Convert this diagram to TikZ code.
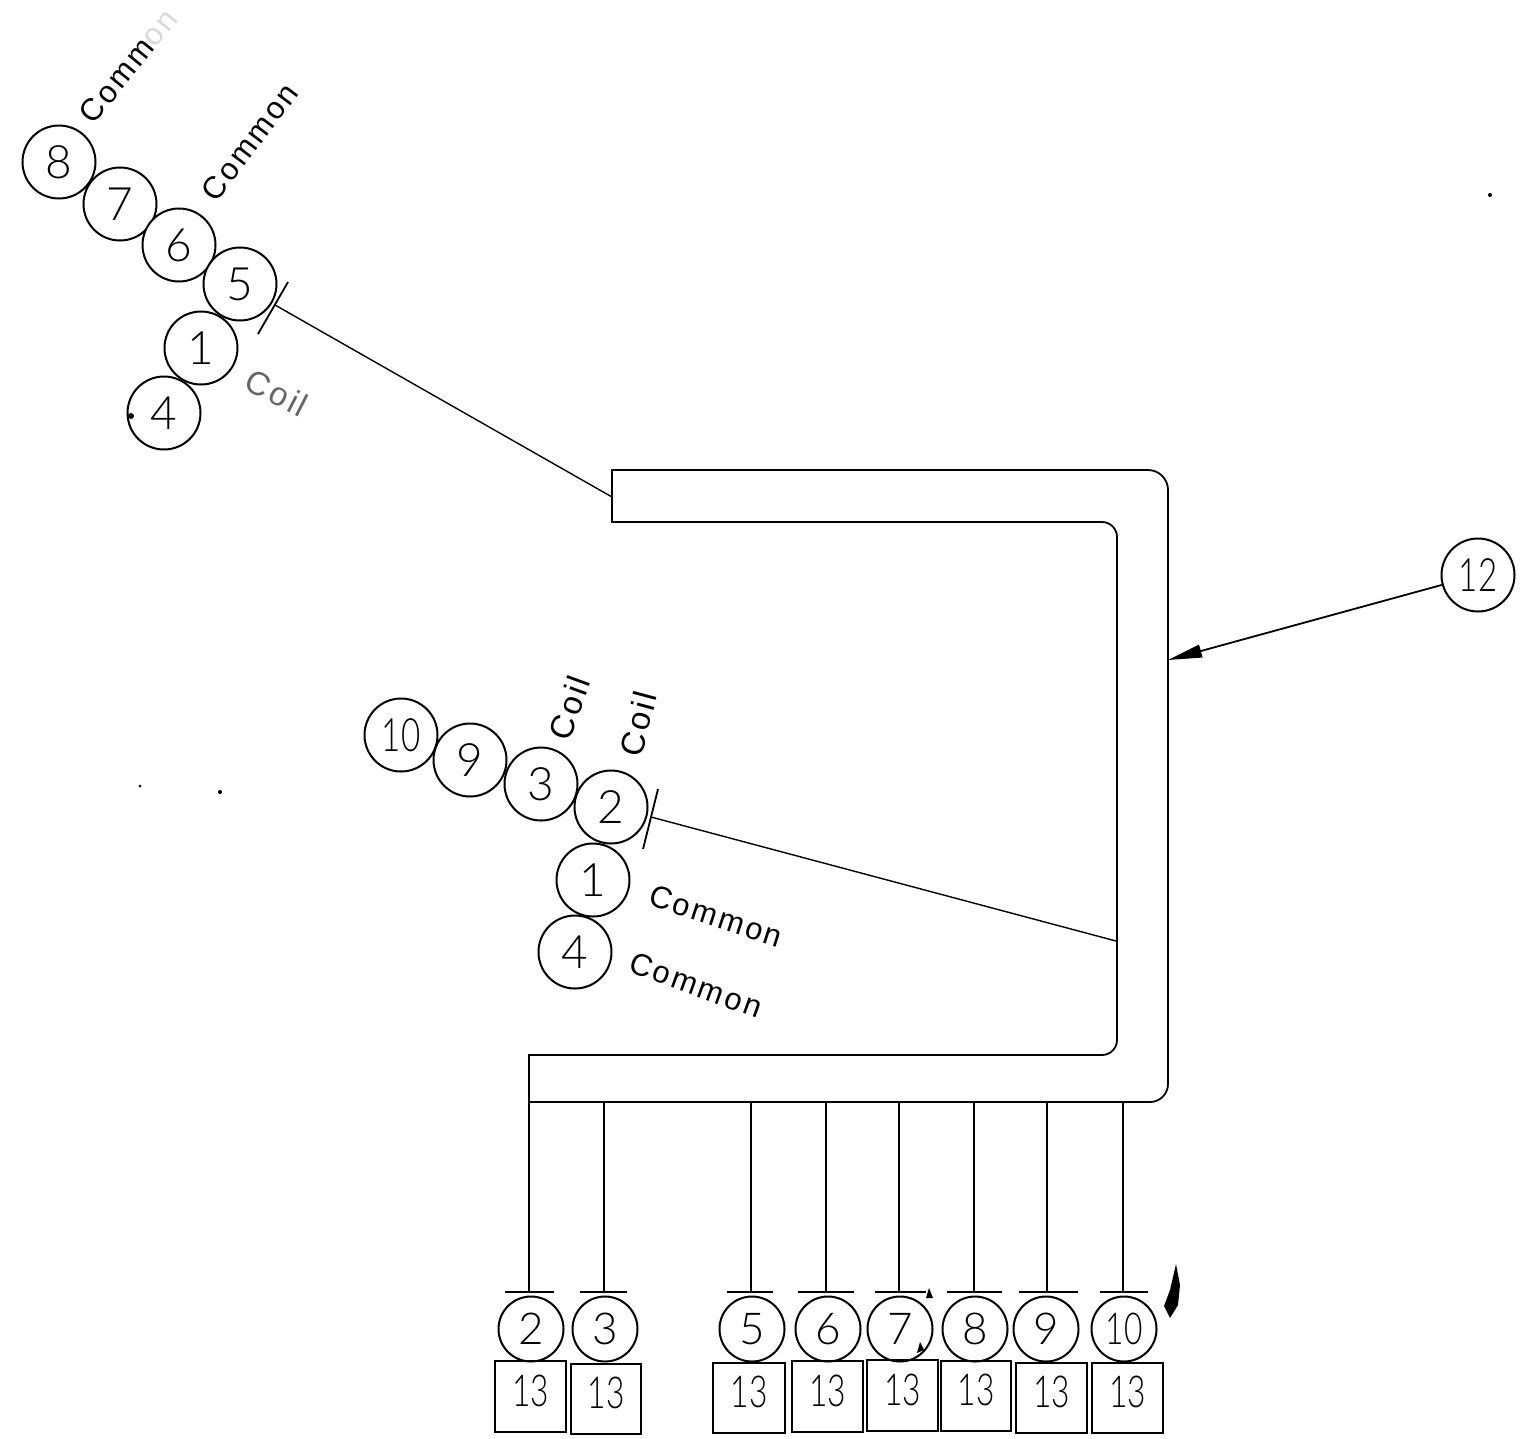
\documentclass[tikz,border=0pt]{standalone}
\usepackage{graphicx}
\usepackage{fontspec}
\setmainfont{Lato Light}
\usetikzlibrary{arrows.meta}
\newfontfamily\lblfont[LetterSpace=8]{Liberation Sans}
\newcommand{\nar}[1]{\scalebox{0.72}[1]{#1}}
\tikzset{
  x=1pt,y=-1pt,
  ln/.style={line width=1.8pt,black},
  thin ln/.style={line width=1.4pt,black},
  bigc/.style={circle,draw,line width=2pt,inner sep=0pt,minimum size=73pt,font=\fontsize{46}{46}\selectfont,fill=white,text=black},
  smallc/.style={circle,draw,line width=2pt,inner sep=0pt,minimum size=65pt,font=\fontsize{44}{44}\selectfont,text=black},
  lbl/.style={inner sep=0pt,font=\lblfont\fontsize{31}{31}\selectfont,text=black},
  coilbl/.style={inner sep=0pt,font=\lblfont\fontsize{33}{33}\selectfont,text=black},
  speck/.style={fill=black,draw=none},
}
\begin{document}
\begin{tikzpicture}
\useasboundingbox (0,0) rectangle (1536,1438);
\fill[white] (0,0) rectangle (1536,1438);

% upper group
\foreach \nm/\px/\py/\tx in {uh/59/162/8,us/120/204/7,ux/179/245/6,uf/240/284/5,uo/201/348/1,ur/164/413/4}
  \node[bigc] (\nm) at (\px,\py) {\tx};

% middle group
\foreach \nm/\px/\py/\tx in {mt/401/735/\nar{10},mn/470/760/9,mc/541/784/3,mb/611/807/2,mo/593/880/1,mr/575/952/4}
  \node[bigc] (\nm) at (\px,\py) {\tx};

% key
\node[bigc] (twelve) at (1478,575) {\nar{12}};

% labels
\node[lbl,rotate=51] (l1) at (128,66) {Comm\textcolor{black!15}{on}};
\node[lbl,rotate=53] (l2) at (250,142) {Common};
\node[coilbl,rotate=-27,text=black!60] (l3) at (277,393) {Coil};
\node[coilbl,rotate=70] (l4) at (569,708) {Coil};
\node[coilbl,rotate=75] (l5) at (638,724) {Coil};
\node[lbl,rotate=-18] (l6) at (716,916) {Common};
\node[lbl,rotate=-20] (l7) at (696,985) {Common};

% channel
\draw[ln] (612,470) -- (1148,470) arc[start angle=-90,end angle=0,radius=20] -- (1168,1084)
  arc[start angle=0,end angle=90,radius=18] -- (529,1102) -- (529,1055) -- (1102,1055)
  arc[start angle=90,end angle=0,radius=15] -- (1117,537) arc[start angle=0,end angle=-90,radius=15]
  -- (612,522) -- cycle;

% coordinates on the channel and ticks
\coordinate (pa) at (612,497);
\coordinate (pb) at (1116,941);
\coordinate (pc) at (1168,660);
\coordinate (ta1) at (288,282);
\coordinate (ta2) at (258,334);
\coordinate (taa) at (275,305);
\coordinate (tb1) at (658,789);
\coordinate (tb2) at (643,849);
\coordinate (tbb) at (651,817);

\draw[ln] (ta1) -- (ta2);
\draw[ln] (tb1) -- (tb2);
\draw[thin ln] (taa) -- (pa);
\draw[thin ln] (tbb) -- (pb);
\draw[ln,-{Stealth[length=34pt,width=13pt,inset=0pt]}] (twelve) -- (pc);

% bottom row: circles, boxes, bars, leads
\foreach \id/\cx/\tx/\bl/\bt/\br/\bb/\barl/\barr/\lx in {
  a/531/2/495/1361/566/1432/505/554/529,
  b/605/3/571/1364/641/1434/580/627/604,
  c/752/5/713/1363/785/1433/727/773/751,
  d/828/6/792/1361/863/1432/798/854/826,
  e/900/7/867/1360/938/1431/875/926/899,
  f/975/8/941/1361/1011/1431/947/1002/974,
  g/1046/9/1016/1363/1087/1433/1019/1078/1047,
  h/1124/\nar{10}/1092/1363/1163/1433/1100/1148/1123}{
  \node[smallc] (c\id) at (\cx,1329) {\tx};
  \draw[line width=2pt] (\bl,\bt) rectangle (\br,\bb);
  \node[inner sep=0pt,font=\fontsize{44}{44}\selectfont] (b\id) at ({(\bl+\br)/2},{(\bt+\bb)/2-6}) {\nar{13}};
  \coordinate (tl\id) at (\barl,1292);
  \coordinate (tr\id) at (\barr,1292);
  \coordinate (tm\id) at (\lx,1292);
  \coordinate (pt\id) at (\lx,1102);
  \draw[ln] (tl\id) -- (tr\id);
  \draw[thin ln] (pt\id) -- (tm\id);
}

% marks on the sheet
\fill[speck] (1176,1264) -- (1180,1285) -- (1178,1305) -- (1170,1318) -- (1164,1306) -- (1170,1290) -- cycle;
\fill[speck] (929,1288) -- (933,1298) -- (926,1298) -- cycle;
\fill[speck] (920,1342) -- (924,1350) -- (917,1353) -- cycle;
\fill[speck] (131,416) circle[radius=3];
\fill[speck] (1490,195) circle[radius=2];
\fill[speck] (220,792) circle[radius=2];
\fill[speck] (140,786) circle[radius=1.5];
\end{tikzpicture}
\end{document}
